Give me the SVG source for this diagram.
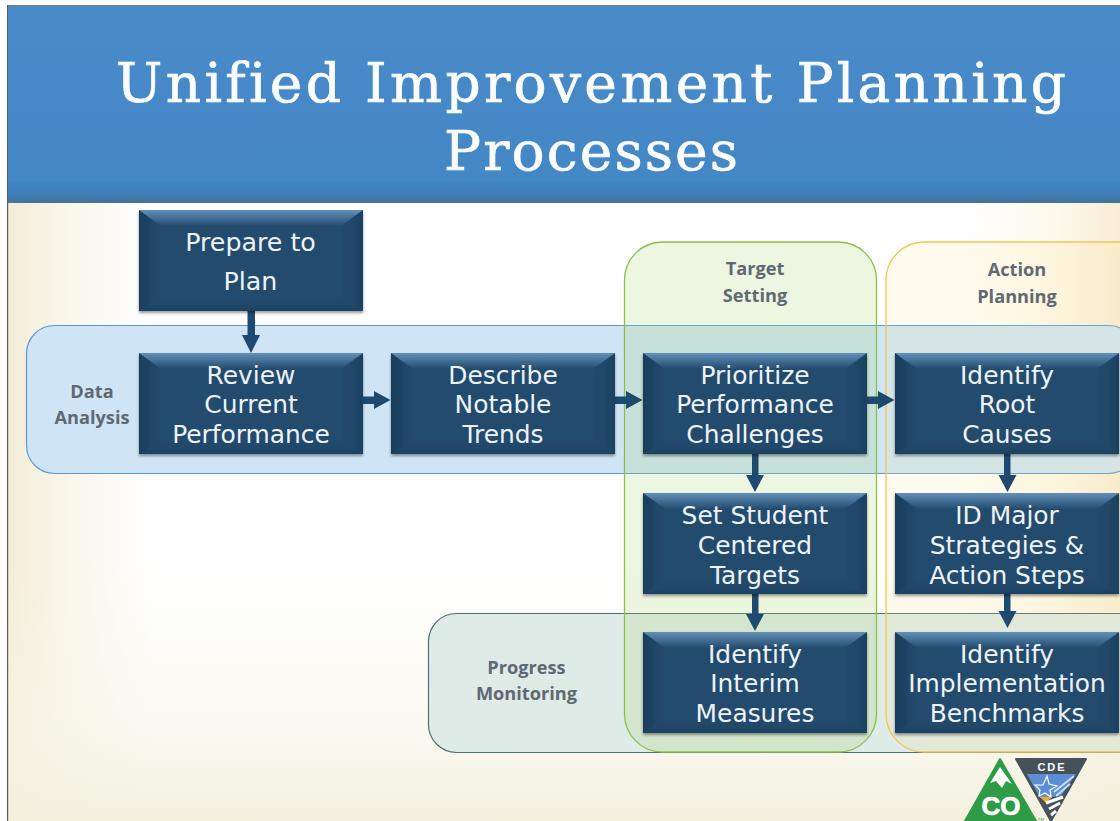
<svg xmlns="http://www.w3.org/2000/svg" width="1120" height="821" viewBox="0 0 1120 821">
<style>
.nt{font-family:"DejaVu Sans",Verdana,sans-serif;font-size:24.900px;fill:#eef3f8;text-anchor:middle}
.gt{font-family:"Open Sans","Noto Sans",sans-serif;font-weight:700;font-size:18.200px;fill:#5f6973;text-anchor:middle}
.title{font-family:"DejaVu Serif",Rockwell,serif;font-size:55px;fill:#fafcfe;stroke:#fafcfe;stroke-width:0.700px;text-anchor:middle;font-variant-ligatures:none}
.arrow{fill:#1f4a70}
</style>
<defs>
<linearGradient id="bgL" x1="0" x2="1" y1="0" y2="0">
<stop offset="0" stop-color="#f3edd8"/><stop offset="0.05" stop-color="#f9f6e9"/><stop offset="0.13" stop-color="#ffffff"/><stop offset="0.86" stop-color="#ffffff"/><stop offset="0.94" stop-color="#fdf9ec"/><stop offset="1" stop-color="#f7edd6"/>
</linearGradient>
<linearGradient id="bgB" x1="0" x2="0" y1="0" y2="1">
<stop offset="0" stop-color="#f8f6e8" stop-opacity="0"/><stop offset="0.6" stop-color="#f8f6e8" stop-opacity="0.55"/><stop offset="1" stop-color="#f3f0de" stop-opacity="1"/>
</linearGradient>
<linearGradient id="head" x1="0" x2="0" y1="0" y2="1">
<stop offset="0" stop-color="#4a8bca"/><stop offset="0.88" stop-color="#4487c5"/><stop offset="0.94" stop-color="#3f7fbb"/><stop offset="1" stop-color="#43729a"/>
</linearGradient>
<linearGradient id="top" x1="0" x2="0" y1="0" y2="1"><stop offset="0" stop-color="#6390ba"/><stop offset="1" stop-color="#234b6e"/></linearGradient>
<linearGradient id="lft" x1="0" x2="1" y1="0" y2="0"><stop offset="0" stop-color="#1b3d5c"/><stop offset="1" stop-color="#234b6e"/></linearGradient>
<linearGradient id="rgt" x1="1" x2="0" y1="0" y2="0"><stop offset="0" stop-color="#1d4262"/><stop offset="1" stop-color="#234b6e"/></linearGradient>
<linearGradient id="btm" x1="0" x2="0" y1="1" y2="0"><stop offset="0" stop-color="#1d4263"/><stop offset="1" stop-color="#234b6e"/></linearGradient>
<filter id="sh" x="-5%" y="-5%" width="110%" height="115%"><feDropShadow dx="0" dy="2" stdDeviation="1.500" flood-color="#000" flood-opacity="0.4"/></filter>
<g id="box" filter="url(#sh)">
<rect width="224" height="101" fill="#234b6e"/>
<polygon points="0,0 22,16 22,88 0,101" fill="url(#lft)"/>
<polygon points="224,0 202,16 202,88 224,101" fill="url(#rgt)"/>
<polygon points="0,101 22,88 202,88 224,101" fill="url(#btm)"/>
<polygon points="0,0 224,0 202,16 22,16" fill="url(#top)"/>
</g>
</defs>
<rect width="1120" height="821" fill="#fff"/>
<rect x="8" y="200" width="1112" height="621" fill="url(#bgL)"/>
<rect x="8" y="560" width="1112" height="261" fill="url(#bgB)"/>
<rect x="0" y="0" width="7" height="821" fill="#fff"/>
<rect x="7" y="5" width="1.200" height="816" fill="#5a5a5a"/>
<rect x="8" y="5" width="1112" height="1.200" fill="#7a7a7a"/>
<rect x="8" y="6" width="1112" height="197" fill="url(#head)"/>
<g id="title">
<text class="title" x="591" y="102" textLength="950" lengthAdjust="spacing">Unified Improvement Planning</text>
<text class="title" x="591" y="170" textLength="294" lengthAdjust="spacing">Processes</text>
</g>
<g id="group-data-analysis">
<rect x="26.500" y="325.500" width="1110" height="148" rx="28" fill="#cfe5f5" stroke="#5b9bd5" stroke-width="1.200"/>
<text class="gt"><tspan x="92" y="398">Data</tspan><tspan x="92" y="424">Analysis</tspan></text>
</g>
<g id="group-progress-monitoring">
<rect x="428.500" y="613.500" width="720" height="139" rx="28" fill="#dfebe7" stroke="#4a7078" stroke-width="1.200"/>
<text class="gt"><tspan x="526.500" y="674">Progress</tspan><tspan x="526.500" y="700">Monitoring</tspan></text>
</g>
<g id="group-target-setting">
<rect x="624.500" y="242" width="252" height="510" rx="38" fill="#a6d46a" fill-opacity="0.2" stroke="#8cc04a" stroke-width="1.300"/>
<text class="gt"><tspan x="755" y="275">Target</tspan><tspan x="755" y="302">Setting</tspan></text>
</g>
<g id="group-action-planning">
<rect x="886" y="242" width="290" height="510" rx="38" fill="#ffe48a" fill-opacity="0.14" stroke="#f5c451" stroke-width="1.300"/>
<text class="gt"><tspan x="1017" y="276">Action</tspan><tspan x="1017" y="303">Planning</tspan></text>
</g>
<g id="connectors">
<polygon class="arrow" points="247.500,310 255,310 255,335 260,335 251,353 242,335 247.500,335"/>
<polygon class="arrow" points="363,396.500 374,396.500 374,391 390.500,400 374,409 374,404 363,404"/>
<polygon class="arrow" points="615,396.500 626,396.500 626,391 642.500,400 626,409 626,404 615,404"/>
<polygon class="arrow" points="867,396.500 878,396.500 878,391 894.500,400 878,409 878,404 867,404"/>
<polygon class="arrow" points="752,454 758.500,454 758.500,475 764,475 755,492 746,475 752,475"/>
<polygon class="arrow" points="1004,454 1010.500,454 1010.500,475 1016.500,475 1007.500,492 998.500,475 1004,475"/>
<polygon class="arrow" points="752,594 758.500,594 758.500,614 764,614 755,631 746,614 752,614"/>
<polygon class="arrow" points="1004,594 1010.500,594 1010.500,611 1016.500,611 1007.500,628 998.500,611 1004,611"/>
</g>
<g id="node-prepare"><use href="#box" x="139" y="210"/><text class="nt" style="font-size:25.300px"><tspan x="250.500" y="251">Prepare to</tspan><tspan x="250.500" y="290">Plan</tspan></text></g>
<g id="node-review"><use href="#box" x="139" y="353"/><text class="nt"><tspan x="251" y="384">Review</tspan><tspan x="251" y="413">Current</tspan><tspan x="251" y="443">Performance</tspan></text></g>
<g id="node-describe"><use href="#box" x="391" y="353"/><text class="nt"><tspan x="503" y="384">Describe</tspan><tspan x="503" y="413">Notable</tspan><tspan x="503" y="443">Trends</tspan></text></g>
<g id="node-prioritize"><use href="#box" x="643" y="353"/><text class="nt"><tspan x="755" y="384">Prioritize</tspan><tspan x="755" y="413">Performance</tspan><tspan x="755" y="443">Challenges</tspan></text></g>
<g id="node-root"><use href="#box" x="895" y="353"/><text class="nt"><tspan x="1007" y="384">Identify</tspan><tspan x="1007" y="413">Root</tspan><tspan x="1007" y="443">Causes</tspan></text></g>
<g id="node-targets"><use href="#box" x="643" y="493"/><text class="nt"><tspan x="755" y="524">Set Student</tspan><tspan x="755" y="554">Centered</tspan><tspan x="755" y="584">Targets</tspan></text></g>
<g id="node-strategies"><use href="#box" x="895" y="493"/><text class="nt"><tspan x="1007" y="524">ID Major</tspan><tspan x="1007" y="554">Strategies &amp;</tspan><tspan x="1007" y="584">Action Steps</tspan></text></g>
<g id="node-interim"><use href="#box" x="643" y="632"/><text class="nt"><tspan x="755" y="663">Identify</tspan><tspan x="755" y="692">Interim</tspan><tspan x="755" y="722">Measures</tspan></text></g>
<g id="node-benchmarks"><use href="#box" x="895" y="632"/><text class="nt"><tspan x="1007" y="663">Identify</tspan><tspan x="1007" y="692">Implementation</tspan><tspan x="1007" y="722">Benchmarks</tspan></text></g>
<g id="logo">
<polygon points="1000,759 1036,821 965,821" fill="#2e9b47" stroke="#2e9b47" stroke-width="2" stroke-linejoin="round"/>
<polygon points="1000,767 1012,784 1006,781 1002,788 996,781 990,783" fill="#fff"/>
<text x="1001" y="815" font-family="'Liberation Sans',sans-serif" font-weight="700" font-size="26" fill="#fff" text-anchor="middle" stroke="#fff" stroke-width="0.700">CO</text>
<text x="1041" y="820.500" font-family="'Liberation Sans',sans-serif" font-size="4" fill="#2e9b47" text-anchor="middle">TM</text>
<polygon points="1016,759 1086,759 1051,821" fill="#45525a" stroke="#45525a" stroke-width="2" stroke-linejoin="round"/>
<text x="1052" y="771" font-family="'Liberation Sans',sans-serif" font-weight="700" font-size="11" fill="#fff" text-anchor="middle" letter-spacing="2">CDE</text>
<polygon points="1027,774 1076,774 1061,796 1040,798" fill="#5c8ed6"/>
<polygon points="1047,776 1049,784 1057,786 1050,790 1051,797 1045,793 1039,796 1040,790 1035,785 1043,785" fill="#5c8ed6" stroke="#fff" stroke-width="1.200"/>
<path d="M1054 792 L1074 776 M1056 796 L1070 784" stroke="#cfe0f5" stroke-width="1.800" fill="none"/>
<polygon points="1040,797 1052,797 1046,803" fill="#f0ab2d"/>
<path d="M1046 803 L1063 797 M1049 809 L1060 803 M1051 815 L1056 811" stroke="#fff" stroke-width="3" fill="none"/>
</g>
</svg>
